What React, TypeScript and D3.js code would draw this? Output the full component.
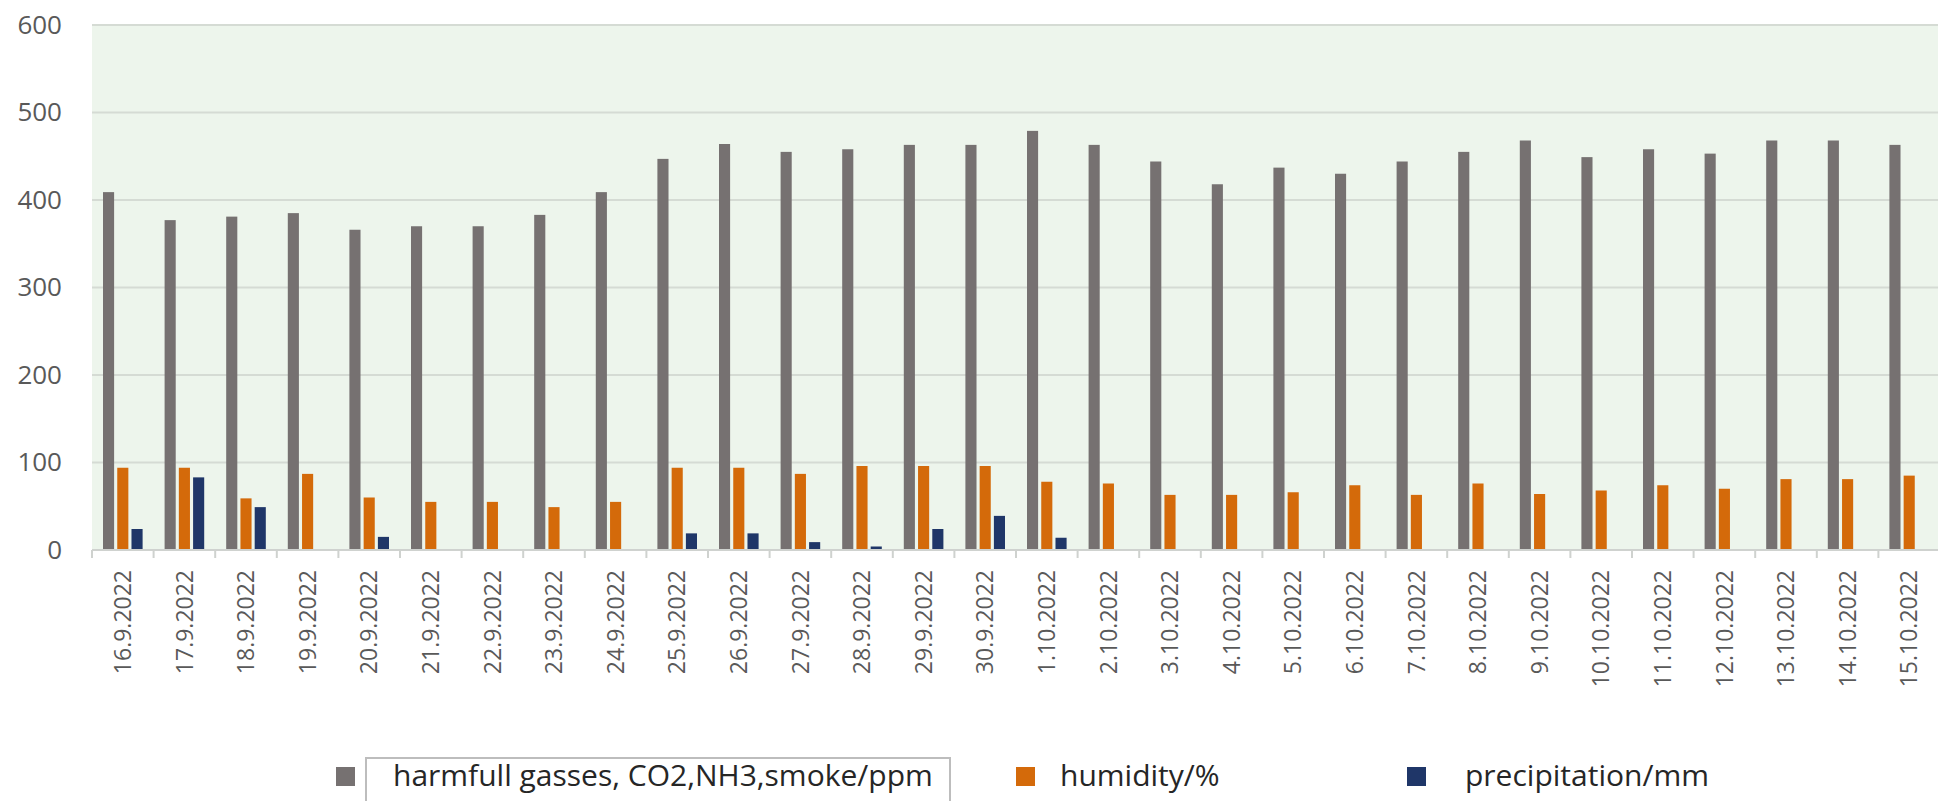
import { axisBottom, axisLeft, scaleBand, scaleLinear, select } from "d3";
import { useEffect, useRef } from "react";

const categories = [
  "16.9.2022", "17.9.2022", "18.9.2022", "19.9.2022", "20.9.2022", "21.9.2022",
  "22.9.2022", "23.9.2022", "24.9.2022", "25.9.2022", "26.9.2022", "27.9.2022",
  "28.9.2022", "29.9.2022", "30.9.2022", "1.10.2022", "2.10.2022", "3.10.2022",
  "4.10.2022", "5.10.2022", "6.10.2022", "7.10.2022", "8.10.2022", "9.10.2022",
  "10.10.2022", "11.10.2022", "12.10.2022", "13.10.2022", "14.10.2022", "15.10.2022",
];

const gasses = [
  409, 377, 381, 385, 366, 370, 370, 383, 409, 447, 464, 455, 458, 463, 463,
  479, 463, 444, 418, 437, 430, 444, 455, 468, 449, 458, 453, 468, 468, 463,
];

const humidity = [
  94, 94, 59, 87, 60, 55, 55, 49, 55, 94, 94, 87, 96, 96, 96,
  78, 76, 63, 63, 66, 74, 63, 76, 64, 68, 74, 70, 81, 81, 85,
];

const precipitation = [
  24, 83, 49, 0, 15, 0, 0, 0, 0, 19, 19, 9, 4, 24, 39,
  14, 0, 0, 0, 0, 0, 0, 0, 0, 0, 0, 0, 0, 0, 0,
];

const yTicks = [0, 100, 200, 300, 400, 500, 600];

const seriesNames = ["harmfull gasses, CO2,NH3,smoke/ppm", "humidity/%", "precipitation/mm"];
const seriesColors = ["#767171", "#d46a0a", "#1f3668"];
const seriesValues = [gasses, humidity, precipitation];

const W = 1938;
const H = 801;
const FONT = "'Open Sans', sans-serif";

export default function App() {
  const svgRef = useRef<SVGSVGElement | null>(null);

  useEffect(() => {
    document.body.style.margin = "0";
    document.body.style.overflow = "hidden";
    if (!svgRef.current) return;
    const svg = select(svgRef.current);
    svg.selectAll("*").remove();

    const plot = { left: 92, right: 1940, top: 25, bottom: 550 };

    const x = scaleBand<string>().domain(categories).range([plot.left, plot.right]);
    const x1 = scaleBand<number>()
      .domain([0, 1, 2])
      .range([11, x.bandwidth() - 11])
      .paddingInner(0.22);
    const y = scaleLinear().domain([0, 600]).range([plot.bottom, plot.top]);

    svg
      .append("rect")
      .attr("x", plot.left)
      .attr("y", plot.top)
      .attr("width", plot.right - plot.left)
      .attr("height", plot.bottom - plot.top)
      .attr("fill", "#edf5ec");

    // gridlines
    svg
      .append("g")
      .selectAll("line")
      .data(yTicks.filter((t) => t > 0))
      .join("line")
      .attr("x1", plot.left)
      .attr("x2", plot.right)
      .attr("y1", (d) => y(d))
      .attr("y2", (d) => y(d))
      .attr("stroke", "#d5dbd4")
      .attr("stroke-width", 2);

    // bars
    const groups = svg
      .append("g")
      .selectAll("g")
      .data(categories)
      .join("g")
      .attr("transform", (d) => `translate(${x(d)},0)`);

    groups
      .selectAll("rect")
      .data((_, i) => seriesValues.map((vals, s) => ({ s, v: vals[i] })))
      .join("rect")
      .attr("x", (d) => x1(d.s) ?? 0)
      .attr("width", x1.bandwidth())
      .attr("y", (d) => y(d.v))
      .attr("height", (d) => y(0) - y(d.v))
      .attr("fill", (d) => seriesColors[d.s]);

    // x axis line + boundary ticks
    svg
      .append("line")
      .attr("x1", plot.left)
      .attr("x2", plot.right)
      .attr("y1", y(0))
      .attr("y2", y(0))
      .attr("stroke", "#cfd2cf")
      .attr("stroke-width", 2);

    const bounds = categories.map((c) => x(c) ?? 0).concat([plot.right]);
    svg
      .append("g")
      .selectAll("line")
      .data(bounds)
      .join("line")
      .attr("x1", (d) => d)
      .attr("x2", (d) => d)
      .attr("y1", y(0))
      .attr("y2", y(0) + 8)
      .attr("stroke", "#cfd2cf")
      .attr("stroke-width", 2);

    // y axis
    const yAxis = svg
      .append("g")
      .attr("transform", `translate(${plot.left},0)`)
      .call(axisLeft(y).tickValues(yTicks).tickSize(0).tickPadding(30));
    yAxis.select(".domain").remove();
    yAxis
      .selectAll("text")
      .attr("font-family", FONT)
      .attr("font-size", 26)
      .attr("fill", "#595959");

    // x axis labels
    const xAxis = svg
      .append("g")
      .attr("transform", `translate(0,${y(0)})`)
      .call(axisBottom(x).tickSize(0));
    xAxis.select(".domain").remove();
    xAxis
      .selectAll("text")
      .attr("transform", "rotate(-90)")
      .attr("x", -20)
      .attr("y", 0)
      .attr("dy", "0.36em")
      .attr("text-anchor", "end")
      .attr("font-family", FONT)
      .attr("font-size", 23)
      .attr("fill", "#595959");

    // legend
    const legendPos = [
      { sx: 336, tx: 393 },
      { sx: 1016, tx: 1060 },
      { sx: 1407, tx: 1465 },
    ];
    svg
      .append("rect")
      .attr("x", 366)
      .attr("y", 758)
      .attr("width", 584)
      .attr("height", 70)
      .attr("fill", "#ffffff")
      .attr("stroke", "#bdbdbd")
      .attr("stroke-width", 2);

    const legend = svg
      .append("g")
      .selectAll("g")
      .data(seriesNames)
      .join("g");
    legend
      .append("rect")
      .attr("x", (_, i) => legendPos[i].sx)
      .attr("y", 767)
      .attr("width", 19)
      .attr("height", 19)
      .attr("fill", (_, i) => seriesColors[i]);
    legend
      .append("text")
      .attr("x", (_, i) => legendPos[i].tx)
      .attr("y", 786)
      .attr("font-family", FONT)
      .attr("font-size", 30)
      .attr("fill", "#262626")
      .text((d) => d);
  }, []);

  return (
    <svg
      ref={svgRef}
      width={W}
      height={H}
      style={{ display: "block", background: "#ffffff" }}
      role="img"
      aria-label="Harmful gasses, humidity and precipitation chart"
    />
  );
}
